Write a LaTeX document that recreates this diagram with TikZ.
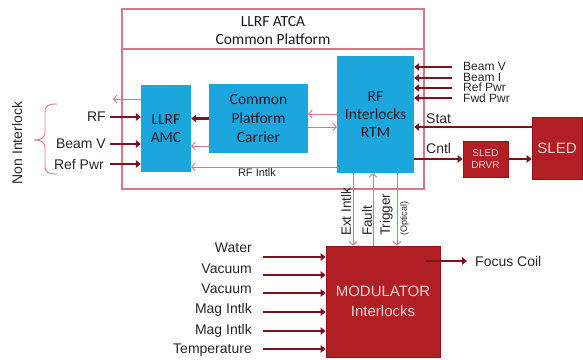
\documentclass[tikz,border=0pt]{standalone}
\usepackage{fontspec}
\setmainfont{Liberation Sans}
\newfontfamily\calfont{Carlito}
\usetikzlibrary{arrows.meta}
\definecolor{dk}{RGB}{122,18,32}
\definecolor{pk}{RGB}{214,118,134}
\definecolor{bl}{RGB}{27,166,222}
\definecolor{rd}{RGB}{177,30,36}
\definecolor{rdb}{RGB}{140,20,26}
\definecolor{wt}{RGB}{246,214,218}
\definecolor{tx}{RGB}{25,25,35}
\begin{document}
\begin{tikzpicture}[x=1pt,y=-1pt,
  bluebox/.style={fill=bl, draw=none, text=tx, align=center, inner sep=0, font=\calfont\fontsize{15.5}{18.5}\selectfont},
  redbox/.style={fill=rd, draw=rdb, line width=0.8pt, text=wt, align=center, inner sep=0},
  dkarrow/.style={draw=dk, line width=2.6pt, -{Triangle[length=5pt,width=7.5pt]}},
  pkarrow/.style={draw=pk, line width=0.9pt, -{Straight Barb[length=3.5pt,width=8pt]}},
  lbl/.style={text=black!85, inner sep=0, font=\fontsize{14}{16}\selectfont},
  slbl/.style={text=black!85, inner sep=0, font=\fontsize{12}{13}\selectfont},
  vlbl/.style={text=black!85, inner sep=0, rotate=90, anchor=west, font=\fontsize{13.5}{15}\selectfont}]
\useasboundingbox (0,0) rectangle (583,359);

% outer ATCA box
\node[draw=pk, line width=1.1pt, minimum width=302, minimum height=180, inner sep=0] (atca) at (273,99) {};
\coordinate (hdr) at (0,49);
\draw[pk, line width=1.1pt] (atca.west |- hdr) -- (atca.east |- hdr);
\node[inner sep=0, align=center, text=tx, font=\calfont\fontsize{15.5}{18}\selectfont] (title) at (273,31) {LLRF ATCA\\Common Platform};

% boxes
\node[bluebox, minimum width=50, minimum height=87] (amc) at (166,128.5) {LLRF\\AMC};
\node[bluebox, minimum width=99, minimum height=69, font=\calfont\fontsize{15.5}{19}\selectfont] (carrier) at (258.5,118.5) {Common\\Platform\\Carrier};
\node[bluebox, minimum width=77, minimum height=117, font=\calfont\fontsize{15.5}{18}\selectfont] (rtm) at (375.5,114.5) {RF\\Interlocks\\RTM};
\node[redbox, minimum width=45, minimum height=36, font=\fontsize{10}{12}\selectfont] (sledd) at (485.5,159) {SLED\\DRVR};
\node[redbox, minimum width=50, minimum height=62, font=\fontsize{15}{17}\selectfont] (sled) at (557,148) {SLED};
\node[redbox, minimum width=114, minimum height=111, font=\fontsize{15}{20}\selectfont] (mod) at (383,301.5) {MODULATOR\\Interlocks};

% left inputs
\coordinate (lRF) at (110,117);
\coordinate (lBV) at (110,144);
\coordinate (lRP) at (110,164);
\draw[dkarrow] (lRF) -- (lRF -| amc.west);
\draw[dkarrow] (lBV) -- (lBV -| amc.west);
\draw[dkarrow] (lRP) -- (lRP -| amc.west);
\node[lbl, anchor=east] (tRF) at (106,117) {RF};
\node[lbl, anchor=east] (tBV) at (106,144) {Beam V};
\node[lbl, anchor=east] (tRP) at (104,164) {Ref Pwr};
\coordinate (lout) at (113,99);
\draw[pkarrow] (lout -| amc.west) -- (lout);

% brace
\draw[pk, line width=0.9pt] (57,104) .. controls (49,104) and (45,105) .. (45,112) -- (45,132)
  .. controls (45,138) and (41,140) .. (34,140)
  .. controls (41,140) and (45,142) .. (45,148) -- (45,166)
  .. controls (45,173) and (49,174) .. (57,174);
\node[lbl, rotate=90] (nonint) at (17,143) {Non Interlock};

% carrier <-> amc
\draw[dkarrow] (carrier.west) -- (carrier.west -| amc.east);
\coordinate (y146) at (0,146);
\draw[pkarrow] (carrier.west |- y146) -- (amc.east |- y146);

% rtm <-> carrier
\coordinate (y114) at (0,114);
\coordinate (y127) at (0,127);
\draw[pkarrow] (rtm.west |- y114) -- (carrier.east |- y114);
\draw[pkarrow] (carrier.east |- y127) -- (rtm.west |- y127);

% RF Intlk
\coordinate (y167) at (0,167);
\draw[pkarrow] (rtm.west |- y167) -- (amc.east |- y167);
\node[inner sep=0, text=black!85, font=\fontsize{11}{12}\selectfont] (rfi) at (257,173) {RF Intlk};

% right inputs
\coordinate (rBV) at (452,67);
\coordinate (rBI) at (452,78);
\coordinate (rRP) at (452,88);
\coordinate (rFP) at (452,98);
\draw[dkarrow] (rBV) -- (rBV -| rtm.east);
\draw[dkarrow] (rBI) -- (rBI -| rtm.east);
\draw[dkarrow] (rRP) -- (rRP -| rtm.east);
\draw[dkarrow] (rFP) -- (rFP -| rtm.east);
\node[slbl, anchor=west] (tBV2) at (463,66) {Beam V};
\node[slbl, anchor=west] (tBI) at (463,77) {Beam I};
\node[slbl, anchor=west] (tRP2) at (463,87.5) {Ref Pwr};
\node[slbl, anchor=west] (tFP) at (463,98) {Fwd Pwr};

% Stat / Cntl
\draw[dkarrow] (sled.west |- y127) -- (rtm.east |- y127);
\node[lbl, anchor=base west] (tstat) at (426,123) {Stat};
\coordinate (y159) at (0,159);
\draw[dkarrow] (rtm.east |- y159) -- (sledd.west |- y159);
\node[lbl, anchor=base west] (tcntl) at (426,153) {Cntl};
\draw[dkarrow] (sledd.east |- y159) -- (sled.west |- y159);

% vertical links
\coordinate (vx1) at (353,0);
\coordinate (vx2) at (373,0);
\coordinate (vx3) at (397,0);
\draw[pkarrow] (rtm.south -| vx1) -- (mod.north -| vx1);
\draw[pkarrow] (mod.north -| vx2) -- (rtm.south -| vx2);
\draw[pkarrow] (rtm.south -| vx3) -- (mod.north -| vx3);
\node[vlbl] (text1) at (346,236) {Ext Intlk};
\node[vlbl] (tfault) at (367,236) {Fault};
\node[vlbl] (ttrig) at (386.5,236) {Trigger};
\node[vlbl, font=\fontsize{9}{10}\selectfont] (topt) at (404.5,236) {(Optical)};

% modulator inputs
\foreach \n/\ya/\yl/\t in {a/257/248/Water, b/275/269/Vacuum, c/293/289/Vacuum, d/312/310/Mag Intlk, e/331/331/Mag Intlk, f/349/350/Temperature}{
  \coordinate (m\n) at (263,\ya);
  \draw[dkarrow] (m\n) -- (m\n -| mod.west);
  \node[lbl, anchor=east] (t\n) at (252,\yl) {\t};
}

% focus coil
\coordinate (fcs) at (426,261);
\coordinate (fc) at (467,261);
\draw[dkarrow] (fcs) -- (fc);
\node[lbl, anchor=west] (tfc) at (475,261) {Focus Coil};
\end{tikzpicture}
\end{document}
